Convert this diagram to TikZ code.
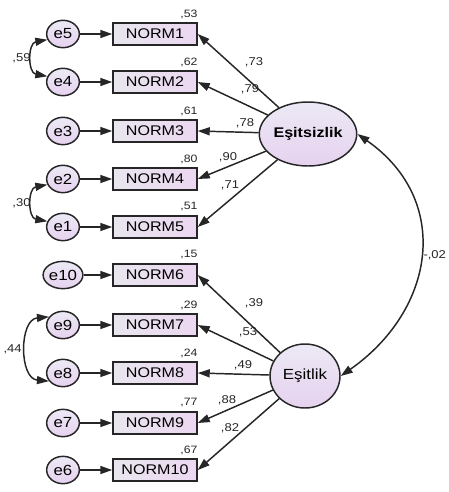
\documentclass[tikz,border=0pt]{standalone}
\usepackage{fontspec}
\setmainfont[FakeStretch=1.15]{Liberation Sans}
\usetikzlibrary{arrows.meta,shapes.geometric}
\definecolor{lvtop}{HTML}{ECE9F5}
\definecolor{lvbot}{HTML}{E6D2EF}
\definecolor{boxl}{HTML}{E8E6EE}
\definecolor{boxr}{HTML}{ECD7F1}
\definecolor{ink}{HTML}{262626}

\begin{document}
\begin{tikzpicture}[x=0.75pt, y=-0.75pt, line width=1.1pt, draw=ink,
    errc/.style={ellipse, draw, top color=lvtop, bottom color=lvbot,
      minimum width=24.5pt, minimum height=20.5pt, inner sep=0pt,
      font=\fontsize{11}{12}\selectfont},
    obs/.style={rectangle, draw, left color=boxl, right color=boxr,
      minimum width=63pt, minimum height=16.5pt, inner sep=0pt,
      font=\fontsize{10.5}{12}\selectfont},
    latent/.style={ellipse, draw, top color=lvtop, bottom color=lvbot,
      minimum width=52.5pt, minimum height=48pt, inner sep=0pt,
      font=\fontsize{11}{12}\selectfont},
    reg/.style={-{Triangle[length=9pt,width=6pt]}},
    cov/.style={{Triangle[length=9pt,width=6pt]}-{Triangle[length=9pt,width=6pt]}},
    rsq/.style={font=\fontsize{8}{9}\selectfont, text=ink, inner sep=0pt},
    est/.style={font=\fontsize{8.5}{9}\selectfont, text=ink, inner sep=0pt}]
  \useasboundingbox (0,0) rectangle (449,492);

  % latent factors
  \node[latent, font=\fontsize{10.5}{12}\selectfont\bfseries] (esz) at (308,134) {Eşitsizlik};
  \node[latent] (es) at (305,376) {Eşitlik};

  % indicators with their error terms and squared multiple correlations
  \foreach \n/\e/\y/\r in {1/5/34/{,53}, 2/4/82/{,62}, 3/3/131/{,61}, 4/2/179/{,80},
      5/1/227/{,51}, 6/10/275/{,15}, 7/9/325/{,29}, 8/8/373/{,24}, 9/7/423/{,77},
      10/6/470/{,67}} {
    \node[obs] (n\n) at (155,\y) {NORM\n};
    \node[errc] (e\e) at (63,\y) {e\e};
    \draw[reg] (e\e) -- (n\n);
    \node[rsq] (r\n) at (189,\y-20) {\r};
  }

  % loadings
  \foreach \n/\x/\y/\b in {1/254/62/{,73}, 2/250/89/{,79}, 3/245/123/{,78},
      4/228/157/{,90}, 5/230/185/{,71}} {
    \draw[reg] (esz) -- (n\n.east);
    \node[est] (l\n) at (\x,\y) {\b};
  }
  \foreach \n/\x/\y/\b in {6/254/303/{,39}, 7/248/332/{,53}, 8/243/365/{,49},
      9/227/400/{,88}, 10/230/428/{,82}} {
    \draw[reg] (es) -- (n\n.east);
    \node[est] (l\n) at (\x,\y) {\b};
  }

  % error covariances
  \draw[cov] (e5.200) to[out=190, in=170, looseness=1.4] node[est, left=1pt] (c54) {,59} (e4.160);
  \draw[cov] (e2.200) to[out=190, in=170, looseness=1.4] node[est, left=1pt] (c21) {,30} (e1.160);
  \draw[cov] (e9.150) to[out=185, in=175, looseness=1.2] node[est, left=3pt] (c98) {,44} (e8.210);

  % factor covariance
  \draw[cov] (esz.east) to[out=-35, in=35, looseness=1.22] node[est, right=2pt] (cf) {-,02} (es.east);
\end{tikzpicture}
\end{document}
